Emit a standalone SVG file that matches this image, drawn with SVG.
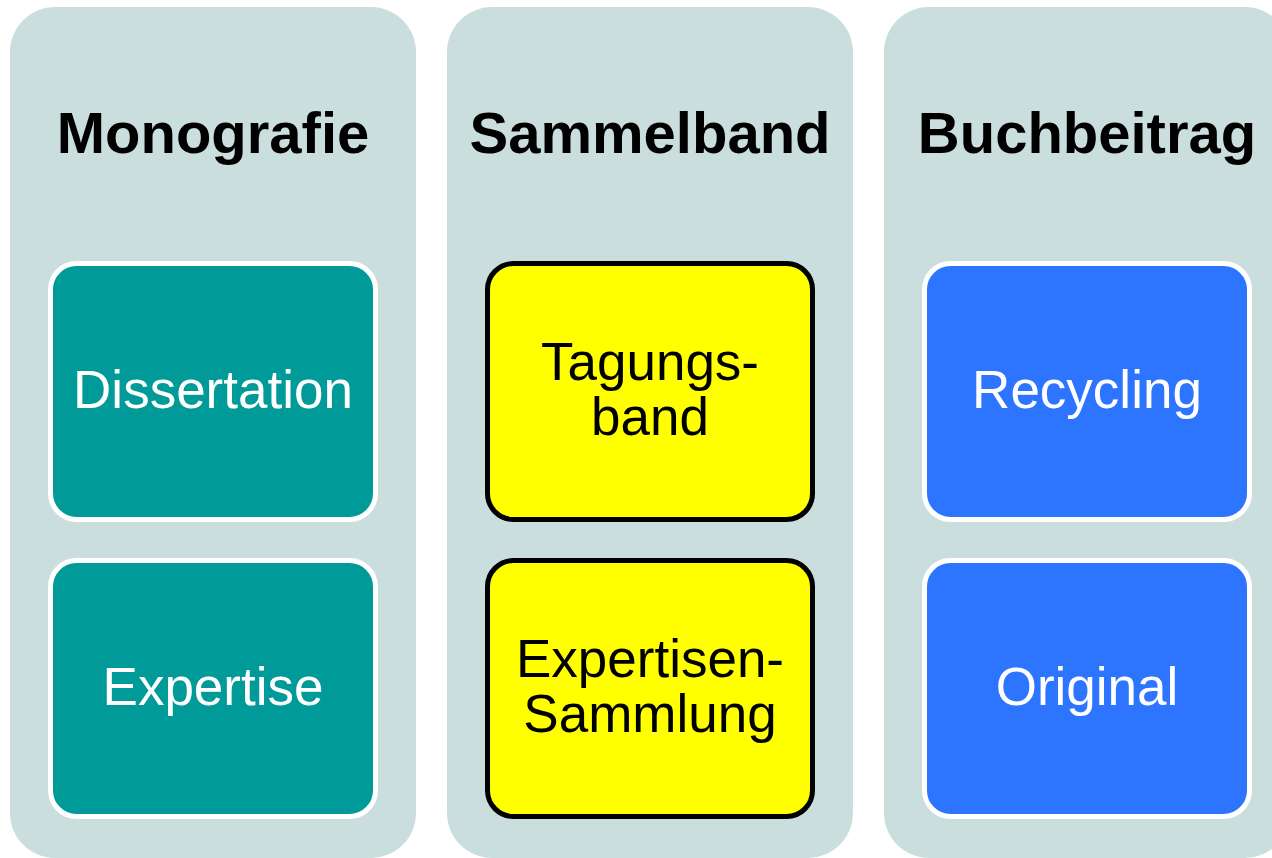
<svg xmlns="http://www.w3.org/2000/svg" width="1272" height="858" viewBox="0 0 1272 858">
<style>
.panel{fill:#C9DEDD}
.box{stroke-width:5}
.teal{fill:#009A98;stroke:#FFFFFF}
.yellow{fill:#FFFF00;stroke:#000000}
.blue{fill:#2D74FF;stroke:#FFFFFF}
.title{font-family:"Liberation Sans",Arial,sans-serif;font-weight:bold;font-size:58px;fill:#000;text-anchor:middle}
.lbl{font-family:"Liberation Sans",Arial,sans-serif;font-size:53px;text-anchor:middle}
.w{fill:#FFFFFF}
.k{fill:#000000}
</style>
<rect width="1272" height="858" fill="#FFFFFF"/>
<g id="col-monografie">
<rect class="panel" x="10" y="7" width="406" height="851" rx="45"/>
<text class="title" x="213" y="153">Monografie</text>
</g>
<g id="col-sammelband">
<rect class="panel" x="447" y="7" width="406" height="851" rx="45"/>
<text class="title" x="650" y="153">Sammelband</text>
</g>
<g id="col-buchbeitrag">
<rect class="panel" x="884" y="7" width="406" height="851" rx="45"/>
<text class="title" x="1087" y="153">Buchbeitrag</text>
</g>
<g id="dissertation">
<rect class="box teal" x="50.5" y="263.5" width="325" height="256" rx="26"/>
<text class="lbl w" x="213" y="408">Dissertation</text>
</g>
<g id="expertise">
<rect class="box teal" x="50.5" y="560.5" width="325" height="256" rx="26"/>
<text class="lbl w" x="213" y="705">Expertise</text>
</g>
<g id="tagungsband">
<rect class="box yellow" x="487.5" y="263.5" width="325" height="256" rx="26"/>
<text class="lbl k" x="650" y="380">Tagungs-</text>
<text class="lbl k" x="650" y="435">band</text>
</g>
<g id="expertisen-sammlung">
<rect class="box yellow" x="487.5" y="560.5" width="325" height="256" rx="26"/>
<text class="lbl k" x="650" y="677">Expertisen-</text>
<text class="lbl k" x="650" y="732">Sammlung</text>
</g>
<g id="recycling">
<rect class="box blue" x="924.5" y="263.5" width="325" height="256" rx="26"/>
<text class="lbl w" x="1087" y="408">Recycling</text>
</g>
<g id="original">
<rect class="box blue" x="924.5" y="560.5" width="325" height="256" rx="26"/>
<text class="lbl w" x="1087" y="705">Original</text>
</g>
<g id="connectors"></g>
</svg>
